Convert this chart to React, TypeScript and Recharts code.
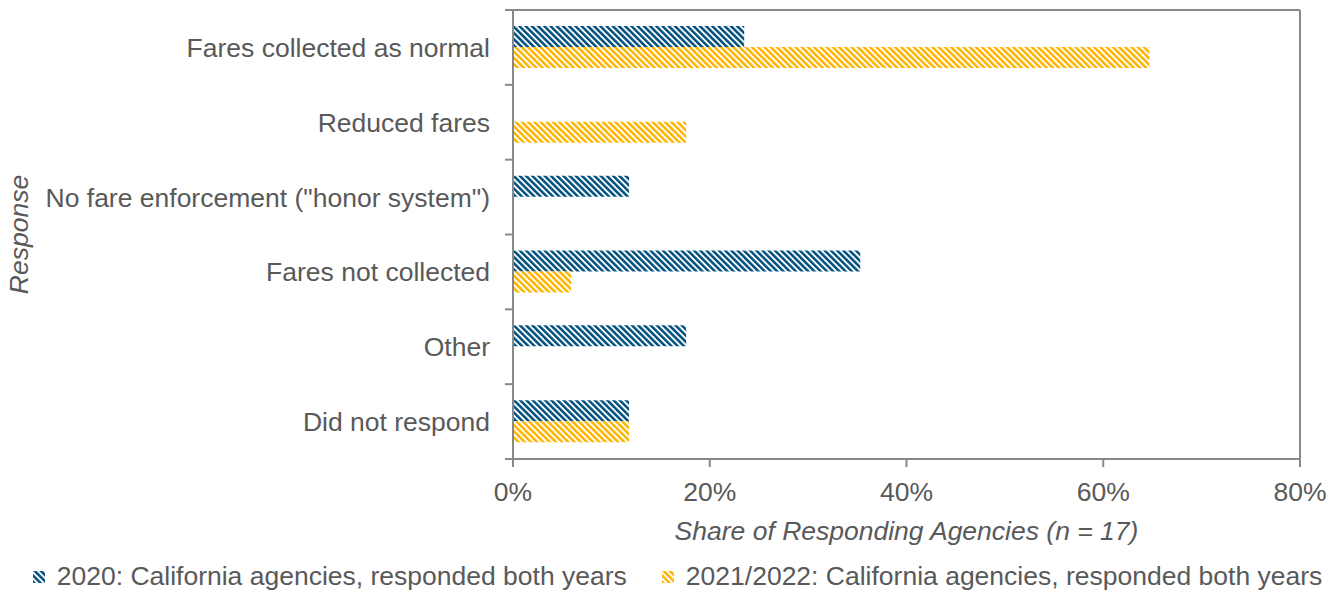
import { BarChart, Bar, XAxis, YAxis, Legend } from 'recharts';

const categories = [
  'Fares collected as normal',
  'Reduced fares',
  'No fare enforcement ("honor system")',
  'Fares not collected',
  'Other',
  'Did not respond',
];
// share of the 17 responding agencies, in percent
const share2020 = [23.5, 0, 11.8, 35.3, 17.6, 11.8];
const share2021 = [64.7, 17.6, 0, 5.9, 0, 11.8];
const xTicks = [0, 20, 40, 60, 80];
const seriesNames = [
  '2020: California agencies, responded both years',
  '2021/2022: California agencies, responded both years',
];

const rows = categories.map((response, i) => ({
  response,
  y2020: share2020[i],
  y2021: share2021[i],
}));

const FONT = '"Liberation Sans", Arial, Helvetica, sans-serif';
const FONT_SIZE = 26.5;
const TEXT = '#595959';
const AXIS = '#898989';
const BLUE = '#00507F';
const GOLD = '#FFB500';
const BAND = 449 / 6;

const patternFor: Record<string, string> = { y2020: 'hatch2020', y2021: 'hatch2021' };

function Hatch({ id, color }: { id: string; color: string }) {
  return (
    <pattern id={id} patternUnits="userSpaceOnUse" width={4.4} height={4.4} patternTransform="rotate(-45)">
      <rect width={4.4} height={4.4} fill="#fff" />
      <rect width={2.5} height={4.4} fill={color} />
    </pattern>
  );
}

// category label plus tick marks on the band edges
function CategoryTick({ x, y, payload, index }: any) {
  const axisX = x + 8 + 15;
  return (
    <g>
      {index === 0 && (
        <line x1={axisX - 8} x2={axisX} y1={y - BAND / 2} y2={y - BAND / 2} stroke={AXIS} strokeWidth={2} />
      )}
      <line x1={axisX - 8} x2={axisX} y1={y + BAND / 2} y2={y + BAND / 2} stroke={AXIS} strokeWidth={2} />
      <text x={x} y={y} dy="0.36em" textAnchor="end" fill={TEXT} fontSize={FONT_SIZE} fontFamily={FONT}>
        {payload.value}
      </text>
    </g>
  );
}

function YTitle({ viewBox }: any) {
  const cy = viewBox.y + viewBox.height / 2;
  return (
    <text
      transform={`translate(${viewBox.x + 28}, ${cy}) rotate(-90)`}
      textAnchor="middle"
      fill={TEXT}
      fontSize={FONT_SIZE}
      fontStyle="italic"
      fontFamily={FONT}
    >
      Response
    </text>
  );
}

function HatchLegend({ payload }: any) {
  const items = (payload ?? []).map((p: any) => ({ name: p.value, key: p.dataKey }));
  return (
    <div
      style={{
        display: 'flex',
        justifyContent: 'center',
        alignItems: 'center',
        gap: 35,
        height: 43,
        paddingTop: 12,
        paddingLeft: 12,
        boxSizing: 'border-box',
        fontFamily: FONT,
        fontSize: FONT_SIZE,
        color: TEXT,
        whiteSpace: 'nowrap',
      }}
    >
      {items.map((it: any) => (
        <div key={it.key} style={{ display: 'flex', alignItems: 'center' }}>
          <svg width={12} height={12} style={{ marginRight: 12 }}>
            <rect width={12} height={12} fill={`url(#${patternFor[it.key]})`} />
          </svg>
          <span>{it.name}</span>
        </div>
      ))}
    </div>
  );
}

export default function App() {
  return (
    <div style={{ position: 'absolute', left: 0, top: 0, background: '#fff' }}>
      <BarChart
        width={1343}
        height={592}
        data={rows}
        layout="vertical"
        margin={{ top: 9, right: 42, left: 0, bottom: 0 }}
        barGap={0}
      >
        <defs>
          <Hatch id="hatch2020" color={BLUE} />
          <Hatch id="hatch2021" color={GOLD} />
        </defs>
        <XAxis
          type="number"
          domain={[0, 80]}
          ticks={xTicks}
          tickFormatter={(v) => `${v}%`}
          height={90}
          tickSize={8}
          tickMargin={15}
          tick={{ fill: TEXT, fontSize: FONT_SIZE, fontFamily: FONT }}
          tickLine={{ stroke: AXIS, strokeWidth: 2 }}
          axisLine={{ stroke: AXIS, strokeWidth: 2 }}
          label={{
            value: 'Share of Responding Agencies (n = 17)',
            position: 'insideBottom',
            offset: 9,
            fill: TEXT,
            fontSize: FONT_SIZE,
            fontStyle: 'italic',
            fontFamily: FONT,
          }}
        />
        {/* frame lines along the top and right of the plot */}
        <XAxis
          xAxisId="top"
          orientation="top"
          type="number"
          domain={[0, 80]}
          height={1}
          tick={false}
          tickLine={false}
          axisLine={{ stroke: AXIS, strokeWidth: 2 }}
        />
        <YAxis
          type="category"
          dataKey="response"
          width={513}
          tickSize={8}
          tickMargin={15}
          tickLine={false}
          interval={0}
          tick={(props: any) => <CategoryTick {...props} />}
          axisLine={{ stroke: AXIS, strokeWidth: 2 }}
          label={{ content: (props: any) => <YTitle {...props} /> }}
        />
        <YAxis
          yAxisId="right"
          orientation="right"
          type="category"
          dataKey="response"
          width={1}
          tick={false}
          tickLine={false}
          axisLine={{ stroke: AXIS, strokeWidth: 2 }}
        />
        <Legend
          verticalAlign="bottom"
          height={43}
          wrapperStyle={{ left: 0, width: 1343, height: 43 }}
          content={(props: any) => <HatchLegend {...props} />}
        />
        <Bar dataKey="y2020" name={seriesNames[0]} fill="url(#hatch2020)" barSize={21} isAnimationActive={false} />
        <Bar dataKey="y2021" name={seriesNames[1]} fill="url(#hatch2021)" barSize={21} isAnimationActive={false} />
      </BarChart>
    </div>
  );
}
